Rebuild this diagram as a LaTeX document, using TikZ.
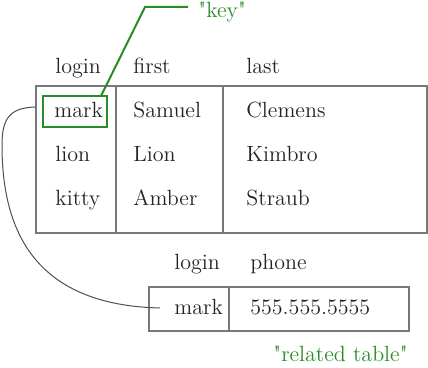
\documentclass[tikz,border=0pt]{standalone}
\usepackage{fontspec}
\definecolor{keygreen}{RGB}{40,140,40}
\definecolor{ink}{RGB}{35,35,35}
\definecolor{rule}{RGB}{120,120,120}
\begin{document}
\begin{tikzpicture}[x=0.5pt,y=-0.5pt,
  txt/.style={anchor=base west, inner sep=0pt, text=ink, font=\fontsize{11}{13}\selectfont},
  gtxt/.style={anchor=base west, inner sep=0pt, text=keygreen, font=\fontsize{11}{13}\selectfont},
  tbl/.style={draw=rule, line width=0.6pt},
  keyline/.style={draw=keygreen, line width=1pt},
  link/.style={draw=ink!80, line width=0.5pt}]
\useasboundingbox (0,0) rectangle (428,368);
% main table
\draw[tbl] (36,86) rectangle (427,233);
\draw[tbl] (116,86) -- (116,233);
\draw[tbl] (223,86) -- (223,233);
\node[txt] (h1) at (55,74) {login};
\node[txt] (h2) at (133,74) {first};
\node[txt] (h3) at (246,74) {last};
\node[txt] (m1) at (54,118) {mark};
\node[txt] (s1) at (133,118) {Samuel};
\node[txt] (c1) at (246,118) {Clemens};
\node[txt] (l1) at (55,162) {lion};
\node[txt] (l2) at (133,162) {Lion};
\node[txt] (k3) at (246,162) {Kimbro};
\node[txt] (k1) at (55,206) {kitty};
\node[txt] (a2) at (133,206) {Amber};
\node[txt] (st3) at (246,206) {Straub};
% key box and label
\draw[keyline] (43,96) rectangle (107,127);
\coordinate (keytop) at (101,96);
\coordinate (bend) at (145,7);
\coordinate (kend) at (188,7);
\node[gtxt] (key) at (198,18) {\textquotedbl key\textquotedbl};
\draw[keyline] (keytop) -- (bend) -- (kend);
% related table
\draw[tbl] (149,287) rectangle (409,331);
\draw[tbl] (229,287) -- (229,331);
\node[txt] (rh1) at (174,270) {login};
\node[txt] (rh2) at (250,270) {phone};
\node[txt] (rm) at (174,315) {mark};
\node[txt] (rp) at (250,315) {555.555.5555};
\node[gtxt] (rel) at (273,362) {\textquotedbl related table\textquotedbl};
% connector
\coordinate (cstart) at (35,107);
\coordinate (cmid) at (2,145);
\coordinate (cend) at (160,308);
\draw[link] (cstart) .. controls (10,108) and (2,118) .. (cmid)
  .. controls (2,225) and (30,305) .. (cend);
\end{tikzpicture}
\end{document}
